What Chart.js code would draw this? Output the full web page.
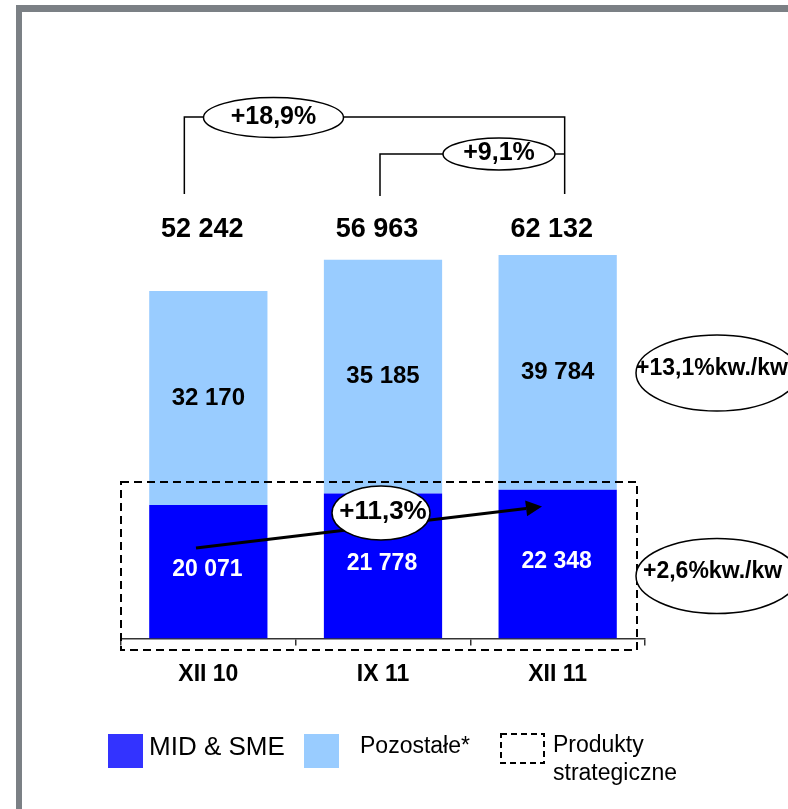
<!DOCTYPE html>
<html>
<head>
<meta charset="utf-8">
<script src="https://cdn.jsdelivr.net/npm/chart.js@4"></script>
<style>
html,body{margin:0;padding:0;background:#fff;overflow:hidden;}
#wrap{position:relative;width:788px;height:809px;}
</style>
</head>
<body>
<div id="wrap"><canvas id="chart" width="788" height="809"></canvas></div>
<script>
const categories = ["XII 10", "IX 11", "XII 11"];
const midSme = [20071, 21778, 22348];
// light segments as tall as they are drawn in the source (the 3rd one is drawn short of its label)
const otherDrawn = [32170, 35185, 35330];
const otherLabels = [32170, 35185, 39784];
const totals = [52242, 56963, 62132];
const growthTotal = ["+18,9%", "+9,1%"];
const growthMid = "+11,3%";
const qoq = ["+13,1%kw./kw", "+2,6%kw./kw"];

const FONT = '"Liberation Sans", Arial, sans-serif';
const fmt = n => String(n).replace(/\B(?=(\d{3})+(?!\d))/g, " ");

function ellipse(ctx, cx, cy, rx, ry){
  ctx.beginPath();
  ctx.ellipse(cx, cy, rx, ry, 0, 0, Math.PI*2);
  ctx.fillStyle = "#fff";
  ctx.fill();
  ctx.setLineDash([]);
  ctx.lineWidth = 1.5;
  ctx.strokeStyle = "#000";
  ctx.stroke();
}

function text(ctx, s, x, y, font, color, align){
  ctx.font = font;
  ctx.fillStyle = color || "#000";
  ctx.textAlign = align || "center";
  ctx.textBaseline = "middle";
  ctx.fillText(s, x, y);
}

const extras = {
  id: "extras",
  afterDraw(chart){
    const ctx = chart.ctx;
    const mid = chart.getDatasetMeta(0).data;
    const oth = chart.getDatasetMeta(1).data;
    ctx.save();

    // grey frame (only top and left edges are in view)
    ctx.fillStyle = "#7b8085";
    ctx.fillRect(16, 5, 6, 804);
    ctx.fillRect(16, 5, 772, 7);

    // values inside the bars
    mid.forEach((b, i) => text(ctx, fmt(midSme[i]), b.x - 1, (b.y + b.base)/2 - 2, "bold 23px " + FONT, "#fff"));
    oth.forEach((b, i) => text(ctx, fmt(otherLabels[i]), b.x, (b.y + b.base)/2, "bold 24px " + FONT, "#000"));
    // totals row
    oth.forEach((b, i) => text(ctx, fmt(totals[i]), b.x - 6, 230, "bold 27px " + FONT, "#000"));

    // growth brackets
    const x0 = mid[0].x - 24, x1 = mid[1].x - 3, x2 = mid[2].x + 7;
    ctx.setLineDash([]);
    ctx.lineWidth = 1.5;
    ctx.strokeStyle = "#000";
    ctx.beginPath();
    ctx.moveTo(x0, 194); ctx.lineTo(x0, 117); ctx.lineTo(x2, 117); ctx.lineTo(x2, 194);
    ctx.moveTo(x1, 196); ctx.lineTo(x1, 154); ctx.lineTo(x2, 154);
    ctx.stroke();
    ellipse(ctx, 273.5, 117.5, 70, 20);
    text(ctx, growthTotal[0], 273.5, 117, "bold 25px " + FONT);
    ellipse(ctx, 499, 154, 56, 16);
    text(ctx, growthTotal[1], 499, 153, "bold 25px " + FONT);

    // strategic products box
    ctx.setLineDash([8, 5]);
    ctx.lineWidth = 2;
    ctx.strokeRect(121, 482, 516, 168);
    ctx.setLineDash([]);

    // arrow across the MID & SME segments
    const ax = 196, ay = 548, tx = 542, ty = 506.5;
    const ang = Math.atan2(ty - ay, tx - ax);
    const hl = 16, hw = 8;
    const bx = tx - hl*Math.cos(ang), by = ty - hl*Math.sin(ang);
    ctx.lineWidth = 3;
    ctx.beginPath(); ctx.moveTo(ax, ay); ctx.lineTo(bx, by); ctx.stroke();
    ctx.beginPath();
    ctx.moveTo(tx, ty);
    ctx.lineTo(bx + hw*Math.sin(ang), by - hw*Math.cos(ang));
    ctx.lineTo(bx - hw*Math.sin(ang), by + hw*Math.cos(ang));
    ctx.closePath();
    ctx.fillStyle = "#000";
    ctx.fill();
    ellipse(ctx, 381, 513, 49, 27);
    text(ctx, growthMid, 383, 512, "bold 26px " + FONT);

    // quarter on quarter bubbles on the right
    ellipse(ctx, 717, 373, 81, 38);
    text(ctx, qoq[0], 636, 369, "bold 23px " + FONT, "#000", "left");
    ellipse(ctx, 717, 576, 81, 37.5);
    text(ctx, qoq[1], 643, 572, "bold 23px " + FONT, "#000", "left");

    // legend
    ctx.fillStyle = "#3333ff";
    ctx.fillRect(108, 734, 35, 34);
    text(ctx, "MID & SME", 149, 748, "26px " + FONT, "#000", "left");
    ctx.fillStyle = "#99ccff";
    ctx.fillRect(304, 734, 35, 34);
    text(ctx, "Pozostałe*", 360, 747, "23px " + FONT, "#000", "left");
    ctx.setLineDash([6, 4]);
    ctx.lineWidth = 2;
    ctx.strokeStyle = "#000";
    ctx.strokeRect(501, 734, 43, 29);
    ctx.setLineDash([]);
    text(ctx, "Produkty", 553, 746, "23px " + FONT, "#000", "left");
    text(ctx, "strategiczne", 553, 774, "23px " + FONT, "#000", "left");

    ctx.restore();
  }
};

new Chart(document.getElementById("chart"), {
  type: "bar",
  data: {
    labels: categories,
    datasets: [
      {label: "MID & SME", data: midSme, backgroundColor: "#0000ff"},
      {label: "Pozostałe*", data: otherDrawn, backgroundColor: "#99ccff"}
    ]
  },
  options: {
    responsive: false,
    animation: false,
    layout: {padding: {left: 121, right: 143, top: 173, bottom: 106}},
    datasets: {bar: {barPercentage: 1, categoryPercentage: 0.677}},
    plugins: {legend: {display: false}, tooltip: {enabled: false}},
    scales: {
      x: {
        stacked: true,
        offset: true,
        border: {display: true, color: "#333", width: 1.5},
        grid: {display: true, offset: true, drawOnChartArea: false, drawTicks: true, tickLength: 7, color: "#333", lineWidth: 1.5},
        ticks: {color: "#000", padding: 15, font: {family: FONT, size: 23, weight: "bold"}}
      },
      y: {stacked: true, display: false, min: 0, max: 70000}
    }
  },
  plugins: [extras]
});
</script>
</body>
</html>
